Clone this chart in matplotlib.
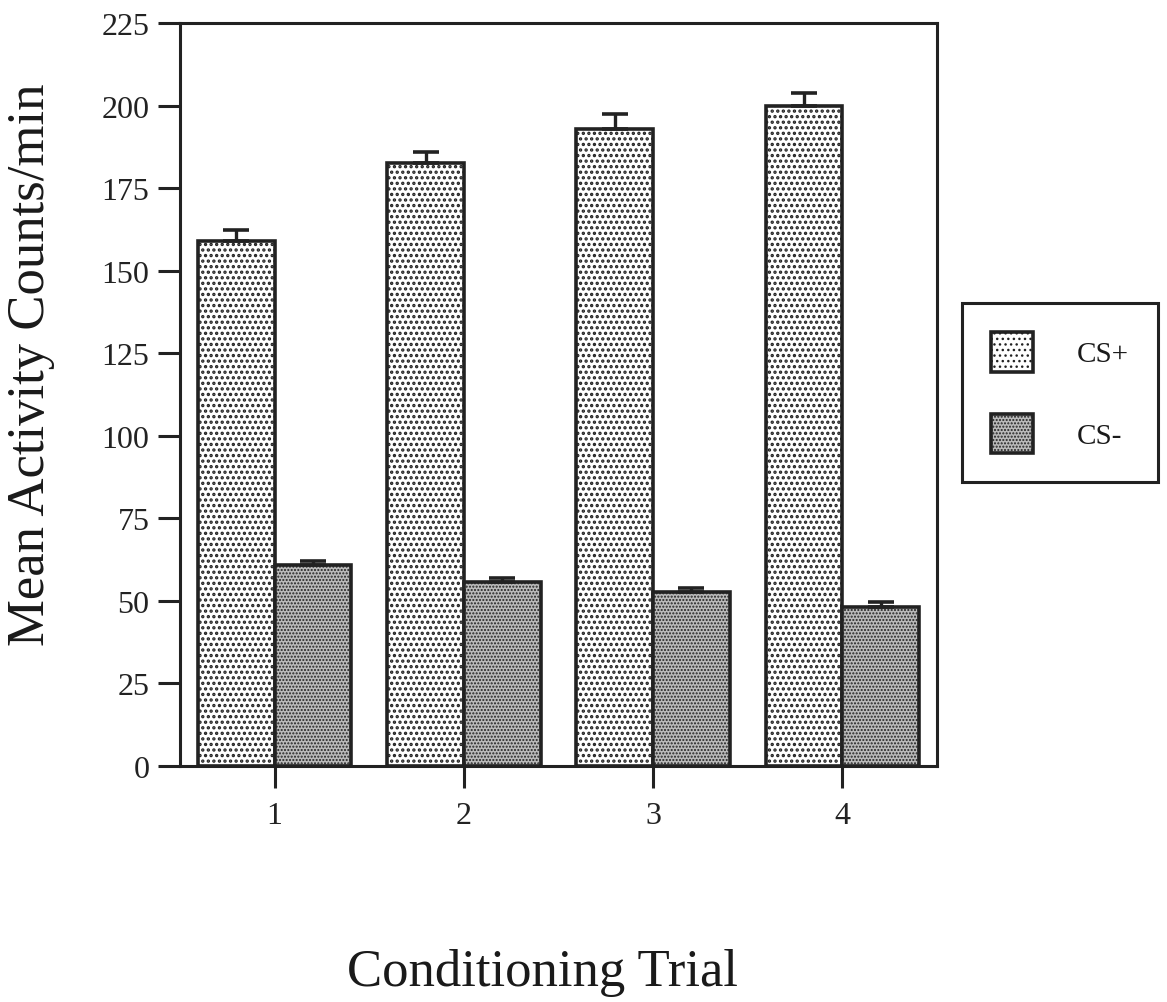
import matplotlib
matplotlib.use("Agg")
import matplotlib.pyplot as plt
import numpy as np

# mean activity counts per minute, by conditioning trial
trials = ["1", "2", "3", "4"]
cs_plus = [159, 182.5, 193, 200]
cs_plus_err = [3.4, 3.5, 4.4, 3.8]
cs_minus = [60.8, 55.7, 52.7, 48.2]
cs_minus_err = [1.3, 1.2, 1.2, 1.4]
yticks = [0, 25, 50, 75, 100, 125, 150, 175, 200, 225]

plt.rcParams["font.family"] = ["Liberation Serif", "DejaVu Serif"]

W, H = 1167, 1003
fig = plt.figure(figsize=(W / 100, H / 100), dpi=100)
ax = fig.add_axes([180 / W, 1 - 767 / H, 757 / W, 743 / H])

x = np.arange(1, len(trials) + 1)
width = 0.405
edge = "#222222"


def hatch_lw(artist, lw):
    # dot size of the hatch comes from hatch.linewidth; apply it per artist
    if hasattr(artist, "set_hatch_linewidth"):
        artist.set_hatch_linewidth(lw)
    orig = artist.draw

    def draw(renderer):
        with plt.rc_context({"hatch.linewidth": lw}):
            orig(renderer)
    artist.draw = draw


b1 = ax.bar(x - width / 2, cs_plus, width, facecolor="white", edgecolor=edge,
            linewidth=2.6, hatch="...", label="CS+", zorder=2)
b2 = ax.bar(x + width / 2, cs_minus, width, facecolor="#bababa", edgecolor=edge,
            linewidth=2.6, hatch=".....", label="CS-", zorder=2)
for p in b1:
    hatch_lw(p, 1.6)
for p in b2:
    hatch_lw(p, 1.0)

# upper error bars only
for xs, ys, es in [(x - width / 2, cs_plus, cs_plus_err),
                   (x + width / 2, cs_minus, cs_minus_err)]:
    ax.errorbar(xs, ys, yerr=[np.zeros(len(es)), es], fmt="none",
                ecolor=edge, elinewidth=2.4, capsize=9.5, capthick=2.6, zorder=3)

ax.set_xlim(0.5, 4.5)
ax.set_ylim(0, 225)
ax.set_xticks(x)
ax.set_xticklabels(trials)
ax.set_yticks(yticks)
ax.tick_params(direction="out", length=16, width=2.2, labelsize=23, pad=6,
               colors=edge)
ax.tick_params(axis="x", pad=9)
for s in ax.spines.values():
    s.set_linewidth(2.2)
    s.set_color(edge)

fig.text(31 / W, 1 - 365 / H, "Mean Activity Counts/min", rotation=90,
         ha="center", va="center", fontsize=38, color="#1a1a1a")
fig.text(542 / W, 1 - 986 / H, "Conditioning Trial", ha="center",
         va="baseline", fontsize=38, color="#1a1a1a")

leg = fig.legend(handles=[b1, b2], labels=["CS+", "CS-"], loc="upper left",
                 bbox_to_anchor=(962 / W, 1 - 304 / H), fontsize=21,
                 handlelength=1.45, handleheight=1.7, labelspacing=1.45,
                 handletextpad=1.5, borderpad=1.0, borderaxespad=0,
                 fancybox=False, edgecolor=edge, framealpha=1)
leg.get_frame().set_linewidth(2.2)
for t in leg.get_texts():
    t.set_color("#1a1a1a")
for h in leg.legend_handles:
    hatch_lw(h, 1.6 if h.get_label() == "CS+" else 1.0)

fig.savefig("out.png", dpi=100)
